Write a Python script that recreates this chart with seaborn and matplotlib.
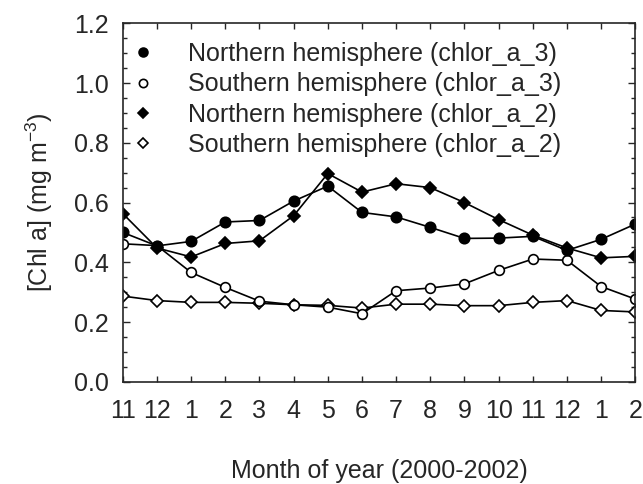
import matplotlib
matplotlib.use("Agg")
import matplotlib.pyplot as plt
from matplotlib.lines import Line2D
from matplotlib.ticker import MultipleLocator
import numpy as np
import pandas as pd
import seaborn as sns

# month labels, Nov 2000 .. Feb 2002
month_labels = ["11", "12", "1", "2", "3", "4", "5", "6", "7", "8", "9", "10", "11", "12", "1", "2"]

north_a3 = [0.50, 0.455, 0.47, 0.535, 0.54, 0.605, 0.655, 0.567, 0.552, 0.517, 0.48, 0.481, 0.487, 0.44, 0.477, 0.528]
south_a3 = [0.462, 0.456, 0.366, 0.316, 0.27, 0.258, 0.25, 0.228, 0.305, 0.314, 0.328, 0.373, 0.411, 0.407, 0.319, 0.277]
north_a2 = [0.563, 0.448, 0.418, 0.463, 0.472, 0.556, 0.697, 0.635, 0.663, 0.65, 0.6, 0.543, 0.491, 0.448, 0.415, 0.42]
south_a2 = [0.287, 0.272, 0.266, 0.266, 0.263, 0.258, 0.256, 0.247, 0.26, 0.26, 0.255, 0.255, 0.266, 0.272, 0.239, 0.234]

series_names = [
    "Northern hemisphere (chlor_a_3)",
    "Southern hemisphere (chlor_a_3)",
    "Northern hemisphere (chlor_a_2)",
    "Southern hemisphere (chlor_a_2)",
]

sns.set_style("ticks")
plt.rcParams["font.family"] = ["Liberation Sans", "DejaVu Sans"]
plt.rcParams["mathtext.default"] = "regular"

idx = np.arange(len(month_labels))
df = pd.DataFrame({
    "idx": np.tile(idx, 4),
    "chl": north_a3 + south_a3 + north_a2 + south_a2,
    "series": np.repeat(series_names, len(idx)),
})

styles = {
    series_names[0]: dict(marker="o", mfc="black", ms=7.5),
    series_names[1]: dict(marker="o", mfc="white", ms=7),
    series_names[2]: dict(marker="D", mfc="black", ms=6.5),
    series_names[3]: dict(marker="D", mfc="white", ms=6),
}

fig = plt.figure(figsize=(6.43, 4.84), dpi=100)
ax = fig.add_axes([0.191, 0.211, 0.797, 0.741])

# draw the open-marker series first so filled ones sit on top
for name in [series_names[3], series_names[1], series_names[2], series_names[0]]:
    st = styles[name]
    sns.lineplot(data=df[df["series"] == name], x="idx", y="chl", ax=ax,
                 color="black", linewidth=1.2, marker=st["marker"],
                 markersize=st["ms"], markerfacecolor=st["mfc"],
                 markeredgecolor="black", markeredgewidth=1.2, legend=False)

ax.set_xlim(0, 15)
ax.set_ylim(0, 1.2)
ax.set_xticks(idx)
ax.set_xticklabels(month_labels)
ax.yaxis.set_major_locator(MultipleLocator(0.2))
ax.yaxis.set_minor_locator(MultipleLocator(0.05))
ax.yaxis.set_major_formatter(matplotlib.ticker.FormatStrFormatter("%.1f"))
ax.tick_params(axis="both", which="both", direction="in", top=True, right=True,
               labelsize=18, width=1.0)
ax.tick_params(axis="x", which="major", length=4, pad=12)
ax.tick_params(axis="y", which="major", length=5, pad=10)
ax.tick_params(axis="y", which="minor", length=3)
for sp in ax.spines.values():
    sp.set_linewidth(1.2)

ax.set_xlabel("Month of year (2000-2002)", fontsize=18, labelpad=26)
ax.set_ylabel("[Chl a] (mg m$^{-3}$)", fontsize=18, labelpad=14)

handles = [
    Line2D([], [], linestyle="none", marker=styles[n]["marker"], color="black",
           markerfacecolor=styles[n]["mfc"], markeredgecolor="black",
           markersize=styles[n]["ms"] * 0.85, markeredgewidth=1.2)
    for n in series_names
]
ax.legend(handles, series_names, loc="upper left", frameon=False, fontsize=18,
          handlelength=0.8, handletextpad=1.4, labelspacing=0.25,
          borderaxespad=0.0, bbox_to_anchor=(0.0, 0.975))

fig.savefig("out.png", dpi=100)
